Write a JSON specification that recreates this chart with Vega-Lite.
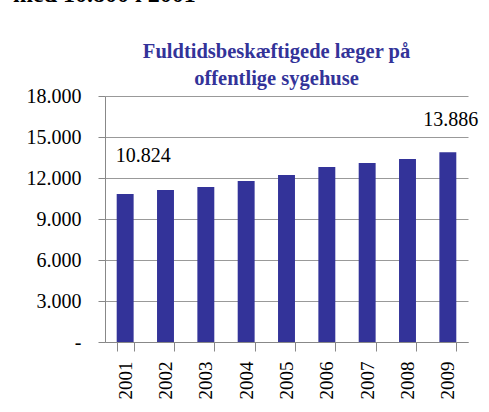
{
  "$schema": "https://vega.github.io/schema/vega-lite/v6.json",
  "background": "white",
  "padding": {"left": 13, "top": -18, "right": 0, "bottom": 0},
  "title": {
    "text": "med 10.800 i 2001",
    "anchor": "start",
    "frame": "bounds",
    "font": "Liberation Serif",
    "fontSize": 24,
    "fontWeight": "bold",
    "color": "black",
    "offset": 35,
    "dx": -13
  },
  "data": {
    "values": [
      {"year": "2001", "value": 10824, "label": "10.824"},
      {"year": "2002", "value": 11120, "label": ""},
      {"year": "2003", "value": 11340, "label": ""},
      {"year": "2004", "value": 11780, "label": ""},
      {"year": "2005", "value": 12220, "label": ""},
      {"year": "2006", "value": 12800, "label": ""},
      {"year": "2007", "value": 13100, "label": ""},
      {"year": "2008", "value": 13390, "label": ""},
      {"year": "2009", "value": 13886, "label": "13.886"}
    ]
  },
  "vconcat": [
    {
      "width": 363,
      "height": 246,
      "title": {
        "text": ["Fuldtidsbeskæftigede læger på", "offentlige sygehuse"],
        "anchor": "middle",
        "font": "Liberation Serif",
        "fontSize": 20.5,
        "fontWeight": "bold",
        "color": "#333399",
        "lineHeight": 27,
        "dx": -10,
        "offset": -3
      },
      "encoding": {
        "x": {
          "field": "year",
          "type": "ordinal",
          "scale": {"paddingInner": 0.58, "paddingOuter": 0.29},
          "axis": {
            "title": null,
            "labelAngle": -90,
            "labelAlign": "right",
            "labelBaseline": "middle",
            "labelFont": "Liberation Serif",
            "labelFontSize": 19,
            "labelColor": "black",
            "labelPadding": 10,
            "tickBand": "extent",
            "tickSize": 9,
            "tickColor": "#888888",
            "domainColor": "#888888"
          }
        },
        "y": {
          "field": "value",
          "type": "quantitative",
          "scale": {"domain": [0, 18000], "nice": false},
          "axis": {
            "title": null,
            "values": [0, 3000, 6000, 9000, 12000, 15000, 18000],
            "labelExpr": "datum.value == 0 ? '-' : replace(format(datum.value, ','), ',', '.')",
            "labelFont": "Liberation Serif",
            "labelFontSize": 20,
            "labelColor": "black",
            "labelPadding": 17,
            "tickSize": 7,
            "tickColor": "#888888",
            "domainColor": "#888888",
            "grid": true,
            "gridColor": "#999999",
            "gridWidth": 1
          }
        }
      },
      "layer": [
        {"mark": {"type": "bar", "color": "#333399"}},
        {
          "transform": [{"filter": "datum.year == '2001'"}],
          "mark": {"type": "text", "font": "Liberation Serif", "fontSize": 20, "color": "black", "baseline": "alphabetic", "align": "center", "dx": 18, "dy": -32},
          "encoding": {"text": {"field": "label"}}
        },
        {
          "transform": [{"filter": "datum.year == '2009'"}],
          "mark": {"type": "text", "font": "Liberation Serif", "fontSize": 20, "color": "black", "baseline": "alphabetic", "align": "center", "dx": 3, "dy": -26},
          "encoding": {"text": {"field": "label"}}
        }
      ]
    }
  ],
  "config": {
    "view": {"stroke": null}
  }
}
